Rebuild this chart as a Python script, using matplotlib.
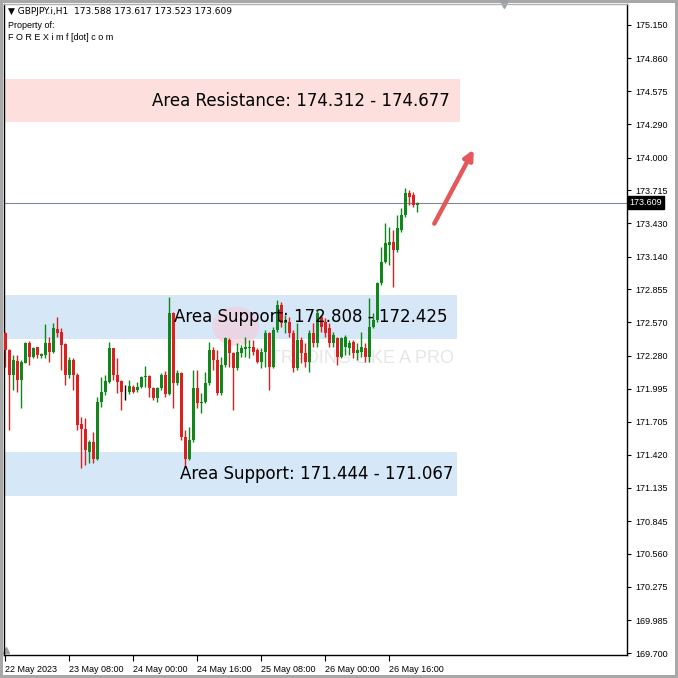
import numpy as np
import matplotlib
matplotlib.use("Agg")
import matplotlib.pyplot as plt
from matplotlib.patches import Ellipse

plt.rcParams['font.family'] = ['Liberation Sans', 'DejaVu Sans']

# GBPJPY H1 candles, 22 May 16:00 .. 26 May 23:00
opens = [172.474, 172.329, 172.112, 172.236, 172.069, 172.219, 172.387, 172.271, 172.352, 172.277,
         172.286, 172.387, 172.315, 172.508, 172.488, 172.381, 172.112, 172.242, 172.112, 171.684,
         171.641, 171.446, 171.533, 171.388, 171.881, 171.967, 172.054, 172.344, 172.112, 172.063,
         171.996, 171.967, 172.005, 171.982, 172.005, 172.092, 172.104, 171.996, 171.909, 171.996,
         172.112, 171.947, 172.653, 172.040, 172.127, 171.577, 171.388, 171.548, 171.996, 171.866,
         171.880, 172.046, 172.329, 172.242, 171.953, 172.199, 172.416, 172.300, 172.170, 172.300,
         172.335, 172.344, 172.358, 172.329, 172.228, 172.315, 172.474, 172.184, 172.503, 172.720,
         172.561, 172.575, 172.474, 172.170, 172.416, 172.300, 172.228, 172.474, 172.387, 172.618,
         172.575, 172.517, 172.387, 172.430, 172.271, 172.358, 172.344, 172.401, 172.300, 172.315,
         172.344, 172.271, 172.531, 172.589, 172.907, 173.096, 173.240, 173.269, 173.197, 173.370,
         173.501, 173.689, 173.674, 173.588]
highs = [172.488, 172.335, 172.286, 172.286, 172.242, 172.401, 172.410, 172.358, 172.358, 172.300,
         172.555, 172.445, 172.561, 172.619, 172.517, 172.387, 172.271, 172.257, 172.127, 171.750,
         171.736, 171.548, 171.620, 171.924, 172.092, 172.112, 172.401, 172.350, 172.257, 172.069,
         172.025, 172.069, 172.025, 172.054, 172.104, 172.190, 172.112, 172.011, 172.011, 172.127,
         172.150, 172.786, 172.662, 172.156, 172.141, 171.635, 171.664, 172.156, 172.156, 171.953,
         172.141, 172.401, 172.358, 172.329, 172.271, 172.445, 172.430, 172.315, 172.387, 172.372,
         172.445, 172.416, 172.416, 172.344, 172.344, 172.503, 172.488, 172.532, 172.763, 172.749,
         172.633, 172.619, 172.503, 172.561, 172.445, 172.387, 172.503, 172.561, 172.676, 172.633,
         172.604, 172.560, 172.488, 172.445, 172.445, 172.459, 172.416, 172.416, 172.387, 172.488,
         172.387, 172.777, 172.647, 172.922, 173.226, 173.428, 173.399, 173.370, 173.501, 173.558,
         173.732, 173.718, 173.703, 173.617]
lows = [172.184, 171.635, 171.982, 171.967, 171.823, 172.213, 172.199, 172.257, 172.257, 172.257,
        172.257, 172.228, 172.300, 172.445, 172.156, 172.025, 172.083, 171.982, 171.635, 171.302,
        171.331, 171.345, 171.345, 171.374, 171.837, 171.938, 172.040, 172.069, 171.953, 171.808,
        171.895, 171.947, 171.958, 171.967, 171.996, 172.005, 171.924, 171.895, 171.880, 171.982,
        171.924, 171.938, 171.823, 172.025, 171.548, 171.302, 171.374, 171.533, 171.823, 171.779,
        171.866, 172.025, 172.156, 171.938, 171.938, 172.184, 172.184, 171.808, 172.156, 172.271,
        172.271, 172.257, 172.286, 172.213, 172.170, 172.184, 171.982, 172.170, 172.488, 172.532,
        172.474, 172.445, 172.141, 172.156, 172.213, 172.184, 172.141, 172.358, 172.358, 172.488,
        172.445, 172.358, 172.358, 172.199, 172.257, 172.286, 172.286, 172.257, 172.242, 172.271,
        172.228, 172.228, 172.517, 172.575, 172.893, 173.081, 173.067, 172.878, 173.182, 173.356,
        173.486, 173.587, 173.573, 173.523]
closes = [172.329, 172.112, 172.242, 172.069, 172.228, 172.387, 172.271, 172.344, 172.286, 172.291,
          172.387, 172.315, 172.517, 172.480, 172.372, 172.112, 172.242, 172.112, 171.678, 171.641,
          171.461, 171.533, 171.388, 171.881, 171.967, 172.063, 172.344, 172.112, 172.054, 171.967,
          171.996, 172.019, 171.967, 172.011, 172.098, 172.104, 171.996, 171.909, 171.996, 172.112,
          171.947, 172.653, 172.040, 172.127, 171.577, 171.388, 171.548, 171.996, 171.866, 171.880,
          172.046, 172.329, 172.242, 171.953, 172.199, 172.430, 172.300, 172.170, 172.315, 172.344,
          172.358, 172.358, 172.315, 172.228, 172.315, 172.474, 172.184, 172.503, 172.720, 172.561,
          172.590, 172.474, 172.170, 172.416, 172.300, 172.228, 172.474, 172.387, 172.647, 172.531,
          172.473, 172.387, 172.459, 172.271, 172.430, 172.439, 172.387, 172.300, 172.329, 172.358,
          172.271, 172.531, 172.589, 172.907, 173.096, 173.255, 173.269, 173.197, 173.385, 173.501,
          173.689, 173.660, 173.587, 173.609]

ytick_vals = [175.150, 174.860, 174.575, 174.290, 174.000, 173.715, 173.430, 173.140, 172.855, 172.570,
              172.280, 171.995, 171.705, 171.420, 171.135, 170.845, 170.560, 170.275, 169.985, 169.700]
xtick_pos = [0, 16, 32, 48, 64, 80, 96]
xtick_labels = ['22 May 2023', '23 May 08:00', '24 May 00:00', '24 May 16:00',
                '25 May 08:00', '26 May 00:00', '26 May 16:00']

resistance = (174.312, 174.677)
support1 = (172.425, 172.808)
support2 = (171.067, 171.444)
last_price = 173.609

GREEN = '#11861a'
RED = '#dc1f1f'

fig = plt.figure(figsize=(6.78, 6.78), dpi=100)
fig.patch.set_edgecolor('#a8a8a8')
fig.patch.set_linewidth(3)
ax = fig.add_axes([4/678, 23/678, 623/678, 651/678])

ax.set_xlim(-0.25, 155.5)
ax.set_ylim(169.683, 175.332)

# zones
ax.axhspan(*resistance, xmin=0, xmax=0.732, color='#fde0de', lw=0, zorder=0)
ax.axhspan(*support1, xmin=0, xmax=0.727, color='#d6e7f8', lw=0, zorder=0)
ax.axhspan(*support2, xmin=0, xmax=0.727, color='#d6e7f8', lw=0, zorder=0)

# watermark
ax.add_patch(Ellipse((0.372, 0.505), 0.075, 0.06, transform=ax.transAxes,
                     color='#f6c9d6', alpha=0.6, lw=0, zorder=0.5))
ax.text(0.575, 0.455, 'TRADING LIKE A PRO', transform=ax.transAxes, fontsize=13,
        color='#e6e6e6', ha='center', va='center', zorder=0.5)

ax.axhline(last_price, color='#7c8a99', lw=0.8, zorder=1)

x = np.arange(len(opens))
o = np.array(opens)
c = np.array(closes)
cols = [GREEN if cc > oo else (RED if cc < oo else 'black') for oo, cc in zip(o, c)]
ax.vlines(x, lows, highs, colors=cols, lw=1, zorder=2)
body = np.abs(c - o)
body = np.where(body < 0.006, 0.006, body)
ax.bar(x, body, bottom=np.minimum(o, c), width=0.75, color=cols, lw=0, zorder=3)

# zone labels
lbl = dict(ha='right', va='center', fontsize=12, zorder=5, family=['DejaVu Sans'])
ax.text(111.25, np.mean(resistance), 'Area Resistance: 174.312 - 174.677', **lbl)
ax.text(110.75, np.mean(support1), 'Area Support: 172.808 - 172.425', **lbl)
ax.text(112.0, np.mean(support2), 'Area Support: 171.444 - 171.067', **lbl)

ax.annotate('', xy=(117.5, 174.09), xytext=(107, 173.405),
            arrowprops=dict(arrowstyle='-|>', color='#e4575a', lw=3.2, mutation_scale=14,
                            capstyle='round'), zorder=6)

# axes styling
for s in ax.spines.values():
    s.set_color('black')
    s.set_linewidth(1)
ax.spines['top'].set_color('#b0b0b0')
ax.yaxis.tick_right()
ax.set_yticks(ytick_vals)
ax.set_yticklabels(['%.3f' % v for v in ytick_vals])
ax.set_xticks(xtick_pos)
ax.set_xticklabels(xtick_labels)
for lab in ax.get_xticklabels():
    lab.set_ha('left')
ax.tick_params(axis='y', direction='out', length=3, width=0.8, labelsize=6.5, pad=3)
ax.tick_params(axis='x', direction='out', length=4, width=0.8, labelsize=6.5, pad=3)

ax.text(1.004, last_price, '%.3f' % last_price, transform=ax.get_yaxis_transform(),
        color='white', fontsize=6.5, va='center', ha='left',
        bbox=dict(facecolor='black', edgecolor='black', pad=1.2), zorder=7, clip_on=False)

ax.plot([0.8026], [1.0], marker='v', color='#9aa0a6', ms=6, transform=ax.transAxes, clip_on=False)
ax.plot([0.004], [0.008], marker='^', color='#9aa0a6', ms=4, transform=ax.transAxes, clip_on=False)

fig.text(8/678, 1 - 12/678, '\u25bc GBPJPY.i,H1  173.588 173.617 173.523 173.609', fontsize=6.5,
         va='center', family=['DejaVu Sans'])
fig.text(8/678, 1 - 25/678, 'Property of:', fontsize=6.5, va='center')
fig.text(8/678, 1 - 37/678, 'F O R E X i m f [dot] c o m', fontsize=6.5, va='center')

fig.savefig('out.png', dpi=100)
